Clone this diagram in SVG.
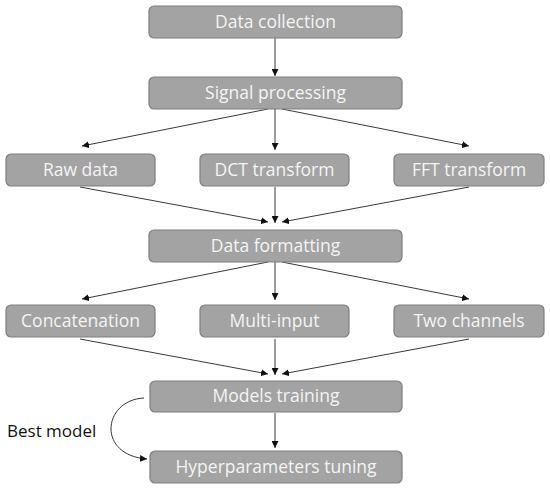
<svg xmlns="http://www.w3.org/2000/svg" width="550" height="489" viewBox="0 0 550 489">
<style>
.box{fill:#a3a3a3;stroke:#7f7f7f;stroke-width:1.2}
.lbl{font-family:"Open Sans","Noto Sans",sans-serif;font-size:17.5px;fill:#f4f4f4;text-anchor:middle}
.cn{stroke:#222;stroke-width:0.9;fill:none;marker-end:url(#ah)}
</style>
<defs>
<marker id="ah" viewBox="0 0 10 10" refX="10" refY="5" markerWidth="7" markerHeight="7" markerUnits="userSpaceOnUse" orient="auto">
<path d="M0,0 L10,5 L0,10 z" fill="#111"/>
</marker>
</defs>
<rect width="550" height="489" fill="#fff"/>
<g id="connectors">
<line class="cn" x1="275" y1="38" x2="275" y2="76"/>
<line class="cn" x1="268" y1="109" x2="82" y2="146"/>
<line class="cn" x1="275" y1="109" x2="275" y2="150"/>
<line class="cn" x1="282" y1="109" x2="469" y2="146"/>
<line class="cn" x1="80" y1="187" x2="268" y2="222"/>
<line class="cn" x1="275" y1="187" x2="275" y2="223"/>
<line class="cn" x1="469" y1="187" x2="282" y2="222"/>
<line class="cn" x1="268" y1="262" x2="82" y2="299"/>
<line class="cn" x1="275" y1="262" x2="275" y2="300"/>
<line class="cn" x1="282" y1="262" x2="469" y2="299"/>
<line class="cn" x1="80" y1="339" x2="268" y2="374"/>
<line class="cn" x1="275" y1="339" x2="275" y2="375"/>
<line class="cn" x1="469" y1="339" x2="282" y2="374"/>
<line class="cn" x1="275" y1="413" x2="275" y2="448"/>
<path class="cn" d="M144,398 C103,400 96,455 147,459"/>
</g>
<g id="n1"><rect class="box" x="149" y="6" width="253" height="32" rx="5"/><text class="lbl" x="275.5" y="28">Data collection</text></g>
<g id="n2"><rect class="box" x="149" y="77" width="253" height="32" rx="5"/><text class="lbl" x="275.5" y="99">Signal processing</text></g>
<g id="n3"><rect class="box" x="6" y="154" width="149" height="32" rx="5"/><text class="lbl" x="80.5" y="176">Raw data</text></g>
<g id="n4"><rect class="box" x="200" y="154" width="149" height="32" rx="5"/><text class="lbl" x="274.5" y="176">DCT transform</text></g>
<g id="n5"><rect class="box" x="394" y="154" width="150" height="32" rx="5"/><text class="lbl" x="469" y="176">FFT transform</text></g>
<g id="n6"><rect class="box" x="149" y="230" width="253" height="32" rx="5"/><text class="lbl" x="275.5" y="252">Data formatting</text></g>
<g id="n7"><rect class="box" x="6" y="305" width="149" height="32" rx="5"/><text class="lbl" x="80.5" y="327">Concatenation</text></g>
<g id="n8"><rect class="box" x="200" y="305" width="149" height="32" rx="5"/><text class="lbl" x="274.5" y="327">Multi-input</text></g>
<g id="n9"><rect class="box" x="394" y="305" width="150" height="32" rx="5"/><text class="lbl" x="469" y="327">Two channels</text></g>
<g id="n10"><rect class="box" x="150" y="381" width="252" height="31" rx="5"/><text class="lbl" x="276" y="402">Models training</text></g>
<g id="n11"><rect class="box" x="150" y="451" width="252" height="32" rx="5"/><text class="lbl" x="276" y="473">Hyperparameters tuning</text></g>
<text x="7" y="437" font-family="Open Sans, Noto Sans, sans-serif" font-size="17" fill="#111">Best model</text>
</svg>
